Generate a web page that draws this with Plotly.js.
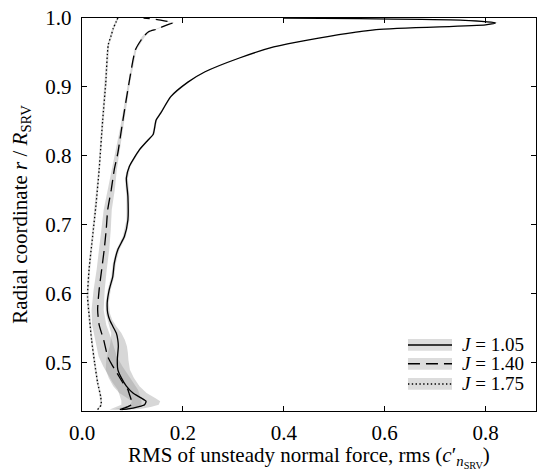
<!DOCTYPE html>
<html>
<head>
<meta charset="utf-8">
<script src="https://cdn.plot.ly/plotly-3.0.1.min.js"></script>
<style>html,body{margin:0;padding:0;background:#fff;}#chart{width:537px;height:471px;}</style>
</head>
<body>
<div id="chart"></div>
<script>
// J = 1.05 (solid)
var r105 = [0.432,0.433,0.436,0.439,0.444,0.449,0.456,0.466,0.478,0.490,0.504,0.514,0.524,0.533,0.543,0.553,0.562,0.572,0.587,0.606,0.625,0.644,0.664,0.683,0.707,0.741,0.768,0.785,0.809,0.823,0.831,0.852,0.862,0.886,0.907,0.922,0.942,0.958,0.968,0.983,0.990,0.993,0.997,0.999,1.000];
var x105 = [0.078,0.091,0.111,0.124,0.127,0.117,0.101,0.088,0.078,0.071,0.070,0.071,0.072,0.071,0.068,0.061,0.055,0.051,0.050,0.054,0.061,0.064,0.071,0.084,0.091,0.091,0.088,0.094,0.114,0.131,0.141,0.147,0.156,0.176,0.210,0.244,0.312,0.380,0.447,0.583,0.800,0.820,0.750,0.550,0.400];
var s105 = [0.025,0.025,0.027,0.028,0.028,0.028,0.027,0.026,0.025,0.024,0.022,0.020,0.017,0.014,0.010,0.007,0.005,0.004,0.003,0.003,0.003,0.003,0.003,0.003,0.003,0.003,0.003,0.002,0.002,0.002,0.002,0.002,0.002,0.002,0.002,0.002,0.002,0.002,0.002,0.003,0.004,0.005,0.004,0.003,0.003];

// J = 1.40 (dashed)
var r140 = [0.432,0.436,0.439,0.445,0.454,0.461,0.471,0.483,0.495,0.509,0.533,0.555,0.577,0.606,0.635,0.664,0.693,0.722,0.751,0.780,0.804,0.842,0.905,0.954,0.973,0.980,0.984,0.990,0.993,0.997,1.000];
var x140 = [0.075,0.090,0.098,0.098,0.094,0.091,0.081,0.071,0.061,0.051,0.043,0.034,0.031,0.034,0.039,0.044,0.048,0.051,0.058,0.064,0.071,0.079,0.093,0.106,0.122,0.132,0.149,0.169,0.180,0.156,0.122];
var s140 = [0.020,0.020,0.020,0.020,0.020,0.020,0.020,0.020,0.019,0.018,0.016,0.014,0.012,0.011,0.010,0.010,0.009,0.008,0.007,0.005,0.004,0.003,0.002,0.002,0.003,0.003,0.003,0.003,0.003,0.003,0.003];

// J = 1.75 (dotted)
var r175 = [0.432,0.439,0.451,0.471,0.500,0.533,0.562,0.596,0.635,0.683,0.731,0.780,0.852,0.905,0.961,0.975,0.985,0.995,1.000];
var x175 = [0.031,0.038,0.037,0.031,0.025,0.019,0.015,0.011,0.014,0.021,0.028,0.034,0.041,0.047,0.052,0.058,0.062,0.068,0.071];
var s175 = [0.002,0.002,0.002,0.002,0.002,0.002,0.002,0.002,0.002,0.002,0.002,0.002,0.002,0.002,0.002,0.002,0.002,0.002,0.002];

var names = ['<i>J</i> = 1.05', '<i>J</i> = 1.40', '<i>J</i> = 1.75'];
var xTickVals = [0.0, 0.2, 0.4, 0.6, 0.8];
var yTickVals = [0.5, 0.6, 0.7, 0.8, 0.9, 1.0];
var xTitle = 'RMS of unsteady normal force, rms (<i>c</i>′<sub><i>n</i><sub>SRV</sub></sub>)';
var yTitle = 'Radial coordinate <i>r</i> / <i>R</i><sub>SRV</sub>';

var series = [
  {r: r105, x: x105, s: s105, dash: 'solid'},
  {r: r140, x: x140, s: s140, dash: '12px,6px'},
  {r: r175, x: x175, s: s175, dash: '1.4px,2.4px'}
];
var bandColor = 'rgba(150,150,150,0.38)';
var FAM = 'Liberation Serif';

var traces = [];
series.forEach(function (d) {
  var lo = d.x.map(function (v, i) { return Math.max(0, v - d.s[i]); });
  var hi = d.x.map(function (v, i) { return v + d.s[i]; });
  traces.push({
    x: lo.concat(hi.slice().reverse()),
    y: d.r.concat(d.r.slice().reverse()),
    mode: 'lines', fill: 'toself', fillcolor: bandColor,
    line: {width: 0, color: 'rgba(0,0,0,0)'},
    hoverinfo: 'skip', showlegend: false
  });
});
series.forEach(function (d, i) {
  traces.push({
    x: d.x, y: d.r, mode: 'lines', name: names[i],
    line: {color: '#000', width: 1.3, dash: d.dash, shape: 'spline', smoothing: 0.6},
    showlegend: false
  });
});

// legend drawn as layout decorations (paper coordinates)
var legendRowsY = [0.168, 0.120, 0.069];
var shapes = [], annotations = [];
series.forEach(function (d, i) {
  var yc = legendRowsY[i];
  shapes.push({type: 'rect', xref: 'paper', yref: 'paper', x0: 0.718, x1: 0.815, y0: yc - 0.015, y1: yc + 0.015,
    fillcolor: '#dcdcdc', line: {width: 0}, layer: 'above'});
  shapes.push({type: 'line', xref: 'paper', yref: 'paper', x0: 0.718, x1: 0.815, y0: yc, y1: yc,
    line: {color: '#000', width: 1.5, dash: d.dash}, layer: 'above'});
  annotations.push({xref: 'paper', yref: 'paper', x: 0.833, y: yc, xanchor: 'left', yanchor: 'middle',
    text: names[i], showarrow: false, font: {family: FAM, size: 19, color: '#000'}});
});
// x-axis title as an annotation below the tick labels
annotations.push({xref: 'paper', yref: 'paper', x: 0.5, y: -0.076, xanchor: 'center', yanchor: 'top',
  text: xTitle, showarrow: false, font: {family: FAM, size: 21, color: '#000'}});

var layout = {
  width: 537, height: 471,
  margin: {l: 82, r: 1, t: 18, b: 60},
  paper_bgcolor: '#fff', plot_bgcolor: '#fff',
  font: {family: FAM, color: '#000', size: 21},
  showlegend: false,
  shapes: shapes, annotations: annotations,
  xaxis: {
    range: [0, 0.9], tickvals: xTickVals, tickformat: '.1f',
    ticks: 'inside', ticklen: 5, tickwidth: 1, tickcolor: '#000',
    showline: true, linecolor: '#000', linewidth: 1.2, mirror: 'ticks',
    showgrid: false, zeroline: false,
    tickfont: {family: FAM, size: 21, color: '#000'},
    ticklabelstandoff: 3
  },
  yaxis: {
    range: [0.43, 1.0], tickvals: yTickVals, tickformat: '.1f',
    ticks: 'inside', ticklen: 5, tickwidth: 1, tickcolor: '#000',
    showline: true, linecolor: '#000', linewidth: 1.2, mirror: 'ticks',
    showgrid: false, zeroline: false,
    tickfont: {family: FAM, size: 21, color: '#000'},
    ticklabelstandoff: 5,
    title: {text: yTitle, font: {family: FAM, size: 21, color: '#000'}, standoff: 12}
  }
};

Plotly.newPlot('chart', traces, layout, {displayModeBar: false, staticPlot: true});
</script>
</body>
</html>
